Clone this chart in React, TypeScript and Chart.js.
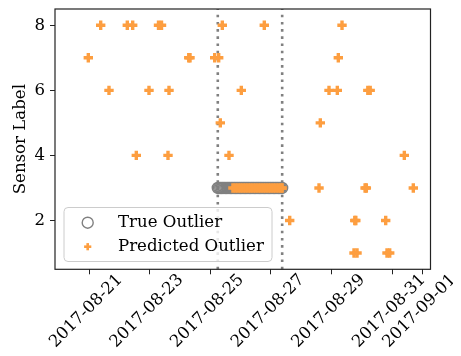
import React, { useEffect, useRef } from "react";
import { Chart, registerables } from "chart.js";

Chart.register(...registerables);

const FONT = "'DejaVu Serif', serif";
const FS = 16.6;
const ORANGE = "#fd9e40";
const GRAY = "#808080";

// axis setup
const xTickLabels = ["2017-08-21", "2017-08-23", "2017-08-25", "2017-08-27", "2017-08-29", "2017-08-31", "2017-09-01"];
const yTickValues = [2, 4, 6, 8];
const xRange = ["2017-08-19T21:04", "2017-09-01T06:29"];
const yRange = [0.5, 8.5];
const windowLines = ["2017-08-25T06:00", "2017-08-27T09:00"];

// true outliers (all on sensor 3)
const trueOutlierSensor = 3;
const trueOutlierTimes = [
  "2017-08-25T06:00", "2017-08-25T07:00", "2017-08-25T08:00", "2017-08-25T09:00", "2017-08-25T10:00", "2017-08-25T11:00",
  "2017-08-25T12:00", "2017-08-25T13:00", "2017-08-25T14:00", "2017-08-25T15:00", "2017-08-25T16:00", "2017-08-25T17:00",
  "2017-08-25T18:00", "2017-08-25T19:00", "2017-08-25T20:00", "2017-08-25T21:00", "2017-08-25T22:00", "2017-08-25T23:00",
  "2017-08-26T00:00", "2017-08-26T01:00", "2017-08-26T02:00", "2017-08-26T03:00", "2017-08-26T04:00", "2017-08-26T05:00",
  "2017-08-26T06:00", "2017-08-26T07:00", "2017-08-26T08:00", "2017-08-26T09:00", "2017-08-26T10:00", "2017-08-26T11:00",
  "2017-08-26T12:00", "2017-08-26T13:00", "2017-08-26T14:00", "2017-08-26T15:00", "2017-08-26T16:00", "2017-08-26T17:00",
  "2017-08-26T18:00", "2017-08-26T19:00", "2017-08-26T20:00", "2017-08-26T21:00", "2017-08-26T22:00", "2017-08-26T23:00",
  "2017-08-27T00:00", "2017-08-27T01:00", "2017-08-27T02:00", "2017-08-27T03:00", "2017-08-27T04:00", "2017-08-27T05:00",
  "2017-08-27T06:00", "2017-08-27T07:00", "2017-08-27T08:00", "2017-08-27T09:00",
];

// predicted outliers: [time, sensor]
const predictedOutliers: [string, number][] = [
  ["2017-08-21T09:15", 8], ["2017-08-22T06:20", 8], ["2017-08-22T10:36", 8], ["2017-08-23T07:03", 8],
  ["2017-08-23T09:26", 8], ["2017-08-25T09:35", 8], ["2017-08-26T18:50", 8], ["2017-08-29T08:24", 8],
  ["2017-08-20T23:27", 7], ["2017-08-24T07:00", 7], ["2017-08-24T08:00", 7], ["2017-08-25T03:33", 7],
  ["2017-08-25T06:43", 7], ["2017-08-29T05:28", 7],
  ["2017-08-21T15:50", 6], ["2017-08-22T23:31", 6], ["2017-08-23T15:22", 6], ["2017-08-26T00:38", 6],
  ["2017-08-28T22:06", 6], ["2017-08-29T04:41", 6], ["2017-08-30T04:50", 6], ["2017-08-30T06:43", 6],
  ["2017-08-25T08:00", 5], ["2017-08-28T15:13", 5],
  ["2017-08-22T13:28", 4], ["2017-08-23T14:34", 4], ["2017-08-25T14:53", 4], ["2017-08-31T09:45", 4],
  ["2017-08-25T18:00", 3], ["2017-08-25T20:00", 3], ["2017-08-25T22:00", 3], ["2017-08-26T00:00", 3],
  ["2017-08-26T02:00", 3], ["2017-08-26T04:00", 3], ["2017-08-26T06:00", 3], ["2017-08-26T08:00", 3],
  ["2017-08-26T10:00", 3], ["2017-08-26T12:00", 3], ["2017-08-26T14:00", 3], ["2017-08-26T16:00", 3],
  ["2017-08-26T18:00", 3], ["2017-08-26T20:00", 3], ["2017-08-26T22:00", 3], ["2017-08-27T00:00", 3],
  ["2017-08-27T02:00", 3], ["2017-08-27T04:00", 3], ["2017-08-27T06:00", 3], ["2017-08-27T08:00", 3],
  ["2017-08-27T09:00", 3],
  ["2017-08-28T14:11", 3], ["2017-08-30T02:40", 3], ["2017-08-30T03:40", 3], ["2017-08-31T16:52", 3],
  ["2017-08-27T14:58", 2], ["2017-08-29T18:30", 2], ["2017-08-29T19:20", 2], ["2017-08-30T19:00", 2],
  ["2017-08-29T17:54", 1], ["2017-08-29T20:17", 1], ["2017-08-30T20:02", 1], ["2017-08-30T22:10", 1],
];

const legendLabels = ["True Outlier", "Predicted Outlier"];

const toMs = (s: string) => Date.parse((s.length === 10 ? s + "T00:00" : s) + ":00Z");

const noPadding = () => ({ left: 0, top: 0, right: 0, bottom: 0 });

const decorPlugin = {
  id: "decor",
  beforeDatasetsDraw(chart: any) {
    const { ctx, chartArea: a, scales } = chart;
    ctx.save();
    ctx.strokeStyle = GRAY;
    ctx.lineWidth = 2.6;
    ctx.setLineDash([2.6, 4.6]);
    windowLines.forEach((s) => {
      const px = scales.x.getPixelForValue(toMs(s));
      ctx.beginPath();
      ctx.moveTo(px, a.bottom);
      ctx.lineTo(px, a.top);
      ctx.stroke();
    });
    ctx.restore();
  },
  afterDraw(chart: any) {
    const { ctx, chartArea: a } = chart;
    ctx.save();
    // frame
    ctx.strokeStyle = "#222";
    ctx.lineWidth = 1.2;
    ctx.strokeRect(a.left, a.top, a.right - a.left, a.bottom - a.top);
    // legend
    ctx.beginPath();
    (ctx as any).roundRect(56, 199.5, 208, 54, 4);
    ctx.fillStyle = "rgba(255,255,255,0.8)";
    ctx.fill();
    ctx.strokeStyle = "#cccccc";
    ctx.lineWidth = 1;
    ctx.stroke();
    // circle marker
    ctx.beginPath();
    ctx.arc(79.7, 214.7, 5.5, 0, Math.PI * 2);
    ctx.strokeStyle = GRAY;
    ctx.lineWidth = 1.4;
    ctx.stroke();
    // plus marker
    ctx.fillStyle = ORANGE;
    ctx.fillRect(79.7 - 3.6, 238.7 - 1.3, 7.2, 2.6);
    ctx.fillRect(79.7 - 1.3, 238.7 - 3.6, 2.6, 7.2);
    // text
    ctx.fillStyle = "#000";
    ctx.font = `${FS}px ${FONT}`;
    ctx.textBaseline = "alphabetic";
    ctx.textAlign = "left";
    ctx.fillText(legendLabels[0], 110, 218.7);
    ctx.fillText(legendLabels[1], 110, 242.7);
    ctx.restore();
  },
};

export default function App() {
  const ref = useRef<HTMLCanvasElement>(null);
  useEffect(() => {
    if (!ref.current) return;
    const chart = new Chart(ref.current, {
      type: "scatter",
      data: {
        datasets: [
          {
            label: legendLabels[1],
            data: predictedOutliers.map(([t, s]) => ({ x: toMs(t), y: s })),
            pointStyle: "cross",
            pointRadius: 4.7,
            pointBorderWidth: 3.4,
            borderColor: ORANGE,
            backgroundColor: ORANGE,
            order: 0,
          },
          {
            label: legendLabels[0],
            data: trueOutlierTimes.map((t) => ({ x: toMs(t), y: trueOutlierSensor })),
            pointStyle: "circle",
            pointRadius: 5.5,
            pointBorderWidth: 1.4,
            borderColor: GRAY,
            backgroundColor: "rgba(0,0,0,0)",
            order: 1,
          },
        ],
      },
      options: {
        responsive: false,
        animation: false,
        events: [],
        layout: { autoPadding: false, padding: { left: 0, top: 1, right: 22.5, bottom: 0 } },
        plugins: { legend: { display: false }, tooltip: { enabled: false } },
        scales: {
          x: {
            type: "linear",
            min: toMs(xRange[0]),
            max: toMs(xRange[1]),
            afterBuildTicks: (scale: any) => {
              scale.ticks = xTickLabels.map((s) => ({ value: toMs(s) }));
            },
            afterFit: (scale: any) => {
              scale.height = 78.7;
              scale.paddingLeft = 0;
              scale.paddingRight = 0;
              scale.paddingTop = 0;
              scale.paddingBottom = 0;
              scale.getPadding = noPadding;
            },
            ticks: {
              autoSkip: false,
              minRotation: 45,
              maxRotation: 45,
              labelOffset: 31,
              padding: -4,
              color: "#000",
              font: { family: FONT, size: FS },
              callback: (_v: any, i: number) => xTickLabels[i],
            },
            grid: { display: true, drawOnChartArea: false, drawTicks: true, tickLength: 5, color: "#222", lineWidth: 1 },
            border: { display: false },
          },
          y: {
            type: "linear",
            min: yRange[0],
            max: yRange[1],
            afterBuildTicks: (scale: any) => {
              scale.ticks = yTickValues.map((v) => ({ value: v }));
            },
            afterFit: (scale: any) => {
              scale.width = 47;
              scale.paddingLeft = 0;
              scale.paddingRight = 0;
              scale.paddingTop = 0;
              scale.paddingBottom = 0;
              scale.getPadding = noPadding;
            },
            ticks: {
              padding: 5,
              color: "#000",
              font: { family: FONT, size: FS },
              callback: (v: any) => String(v),
            },
            title: {
              display: true,
              text: "Sensor Label",
              color: "#000",
              font: { family: FONT, size: FS },
              padding: { top: 3, bottom: 0 },
            },
            grid: { display: true, drawOnChartArea: false, drawTicks: true, tickLength: 5, color: "#222", lineWidth: 1 },
            border: { display: false },
          },
        },
      },
      plugins: [decorPlugin],
    } as any);
    return () => chart.destroy();
  }, []);
  return (
    <div style={{ width: 445, height: 340 }}>
      <canvas ref={ref} width={445} height={340} style={{ display: "block" }} />
    </div>
  );
}
